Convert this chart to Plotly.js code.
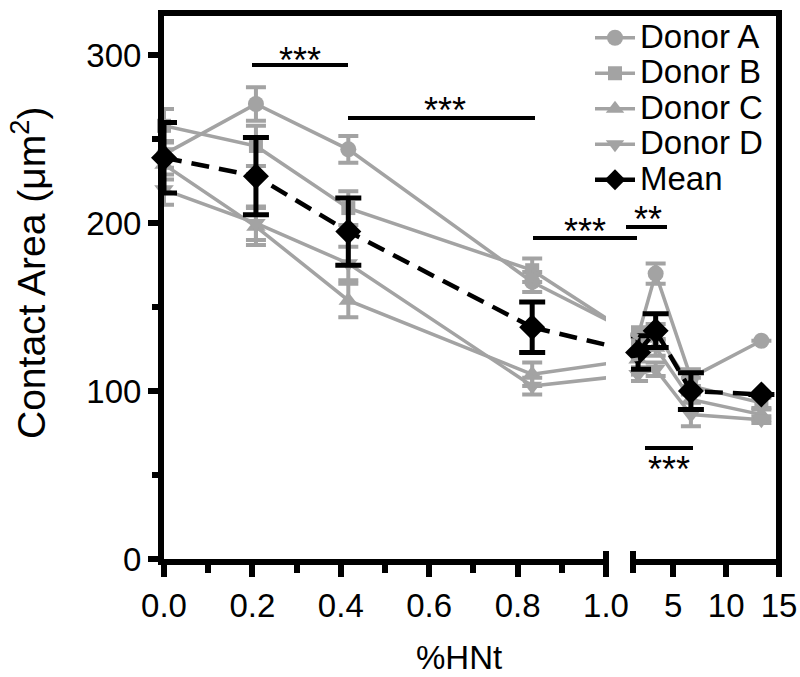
<!DOCTYPE html>
<html><head><meta charset="utf-8">
<script src="https://cdn.plot.ly/plotly-3.0.1.min.js"></script>
<style>html,body{margin:0;padding:0;background:#fff}#chart{width:800px;height:677px}</style>
</head><body><div id="chart"></div>
<script>
// ---- data ----
const doses      = [0, 0.208, 0.417, 0.833, 1.667, 3.333, 6.667, 13.333];
const donorA     = [241, 271, 244, 165, 133, 170, 108, 130];
const donorA_err = [8, 10, 8, 6, 5, 6, 5, 0];
const donorB     = [258, 246, 209, 172, 131, 135, 103, 93];
const donorB_err = [10, 12, 10, 7, 6, 5, 5, 3];
const donorC     = [235, 198, 154, 110, 119, 126, 95, 86];
const donorC_err = [9, 11, 10, 7, 5, 5, 6, 3];
const donorD     = [220, 200, 176, 103, 110, 113, 86, 83];
const donorD_err = [9, 10, 10, 5, 4, 4, 7, 2];
const meanVals   = [239, 228, 195, 138, 123, 136, 100, 98];
const meanErr    = [21, 23, 20, 15, 10, 10, 11, 0];
const seriesNames = ['Donor A', 'Donor B', 'Donor C', 'Donor D', 'Mean'];
const leftTickFormat = '.1f';
const rightTickVals = [5, 10, 15];
const rightTickText = ['5', '10', '15'];
const xTitle = '%HNt';
const yTitle = 'Contact Area (μm<sup>2</sup>)';
const sigLabels = ['***', '***', '***', '**', '***'];

// ---- geometry ----
const W = 800, H = 677, M = {l: 164, r: 21, t: 15, b: 118};
const PW = W - M.l - M.r, PH = H - M.t - M.b;
const px = x => (x - M.l) / PW;
const py = y => (H - M.b - y) / PH;
const BREAK = 1;
const leftRange = [0, 1], rightRange = [1, 15], yRange = [0, 324];
const leftDom = [0, px(606)], rightDom = [px(631), 1];

const FONT = 'Liberation Sans, Arial, sans-serif';
const GRAY = '#a3a3a3';

const L = doses.map((d, i) => d <= BREAK ? i : -1).filter(i => i >= 0);
const R = doses.map((d, i) => d > BREAK ? i : -1).filter(i => i >= 0);
const pick = (a, idx) => idx.map(i => a[i]);
const ia = L[L.length - 1], ib = R[0];

// connector mapping: straight line across the break in screen space
const paperL = x => leftDom[0] + (x - leftRange[0]) / (leftRange[1] - leftRange[0]) * (leftDom[1] - leftDom[0]);
const paperR = x => rightDom[0] + (x - rightRange[0]) / (rightRange[1] - rightRange[0]) * (rightDom[1] - rightDom[0]);
const pa = paperL(doses[ia]), pb = paperR(doses[ib]);
const slope = (pb - pa) / (doses[ib] - doses[ia]);
const inv = p => doses[ia] + (p - pa) / slope;
const x3Range = [inv(leftDom[0]), inv(leftDom[1])];
const x4Range = [inv(rightDom[0]), inv(rightDom[1])];

const series = [
  {name: seriesNames[0], y: donorA, e: donorA_err, sym: 'circle', size: 16, color: GRAY, dash: 'solid', w: 3.5, ew: 10, et: 4},
  {name: seriesNames[1], y: donorB, e: donorB_err, sym: 'square', size: 14, color: GRAY, dash: 'solid', w: 3.5, ew: 10, et: 4},
  {name: seriesNames[2], y: donorC, e: donorC_err, sym: 'triangle-up', size: 17, color: GRAY, dash: 'solid', w: 3.5, ew: 10, et: 4},
  {name: seriesNames[3], y: donorD, e: donorD_err, sym: 'triangle-down', size: 17, color: GRAY, dash: 'solid', w: 3.5, ew: 10, et: 4},
  {name: seriesNames[4], y: meanVals, e: meanErr, sym: 'diamond', size: 20, color: '#000', dash: '18px,10px', w: 4.5, ew: 13, et: 5}
];

const traces = [];
series.forEach(s => {
  [['x3', x3Range], ['x4', x4Range]].forEach(([ax]) => {
    traces.push({x: [doses[ia], doses[ib]], y: [s.y[ia], s.y[ib]], xaxis: ax, yaxis: 'y', mode: 'lines',
      line: {color: s.color, width: s.w, dash: s.dash}, showlegend: false, hoverinfo: 'skip', legendgroup: s.name});
  });
  [[L, 'x', true], [R, 'x2', false]].forEach(([idx, ax, leg]) => {
    traces.push({x: pick(doses, idx), y: pick(s.y, idx), xaxis: ax, yaxis: 'y', mode: 'lines+markers',
      name: '<span style="font-size:33px">' + s.name + '</span>', legendgroup: s.name, showlegend: leg, cliponaxis: false,
      line: {color: s.color, width: s.w, dash: s.dash},
      marker: {symbol: s.sym, size: s.size, color: s.color},
      error_y: {type: 'data', array: pick(s.e, idx), visible: true, color: s.color, thickness: s.et, width: s.ew}});
  });
});

const axBase = {showgrid: false, zeroline: false, showline: true, linecolor: '#000', linewidth: 6,
  ticks: 'outside', ticklen: 12, tickwidth: 6, tickcolor: '#000',
  tickfont: {family: FONT, size: 33, color: '#000'}, ticklabelstandoff: 0, fixedrange: true};

const line = (x0, y0, x1, y1, w) => ({type: 'line', xref: 'paper', yref: 'paper', x0: px(x0), y0: py(y0), x1: px(x1), y1: py(y1), line: {color: '#000', width: w}});
const shapes = [
  line(158, 13, 782, 13, 6),     // top frame
  line(779, 10, 779, 573, 6),    // right frame
  line(606, 551, 606, 573, 6),   // break cap left
  line(633, 551, 633, 573, 6),   // break cap right
  line(252, 65, 348, 65, 4),
  line(348, 118, 535, 118, 4),
  line(533, 238, 637, 238, 4),
  line(626, 227, 667, 227, 4),
  line(645, 448, 693, 448, 4)
];
const sigPos = [[300, 60], [445, 110], [585, 231], [648, 219], [669, 469]];
const annotations = sigLabels.map((t, i) => ({text: t, xref: 'paper', yref: 'paper', x: px(sigPos[i][0]), y: py(sigPos[i][1]),
  xanchor: 'center', yanchor: 'middle', showarrow: false, font: {family: FONT, size: 36, color: '#000'}}));
annotations.push({text: xTitle, xref: 'paper', yref: 'paper', x: px(459), y: py(657), xanchor: 'center', yanchor: 'middle',
  showarrow: false, font: {family: FONT, size: 33, color: '#000'}});
annotations.push({text: yTitle, xref: 'paper', yref: 'paper', x: px(28), y: py(273), xanchor: 'center', yanchor: 'middle',
  textangle: -90, showarrow: false, font: {family: FONT, size: 39, color: '#000'}});

const layout = {
  width: W, height: H, margin: M, paper_bgcolor: '#fff', plot_bgcolor: '#fff',
  showlegend: true, hovermode: false,
  font: {family: FONT, color: '#000'},
  xaxis: Object.assign({}, axBase, {domain: leftDom, range: leftRange, tick0: 0, dtick: 0.2, tickformat: leftTickFormat, anchor: 'y',
    minor: {dtick: 0.1, tick0: 0, ticks: 'outside', ticklen: 8, tickwidth: 6, tickcolor: '#000'}}),
  xaxis2: Object.assign({}, axBase, {domain: rightDom, range: rightRange, tickmode: 'array', tickvals: rightTickVals, ticktext: rightTickText, anchor: 'y'}),
  xaxis3: {overlaying: 'x', range: x3Range, visible: false, fixedrange: true, anchor: 'y'},
  xaxis4: {overlaying: 'x2', range: x4Range, visible: false, fixedrange: true, anchor: 'y'},
  yaxis: Object.assign({}, axBase, {range: yRange, dtick: 100, tick0: 0, ticklen: 10, anchor: 'x',
    minor: {dtick: 50, tick0: 0, ticks: 'outside', ticklen: 6, tickwidth: 6, tickcolor: '#000'}}),
  legend: {x: px(590), y: py(15), xanchor: 'left', yanchor: 'top', bgcolor: 'rgba(0,0,0,0)', itemwidth: 40,
    font: {family: FONT, size: 25, color: '#000'}, tracegroupgap: 0, itemclick: false, itemdoubleclick: false},
  shapes: shapes, annotations: annotations
};
Plotly.newPlot('chart', traces, layout, {staticPlot: true, displayModeBar: false});
</script></body></html>
